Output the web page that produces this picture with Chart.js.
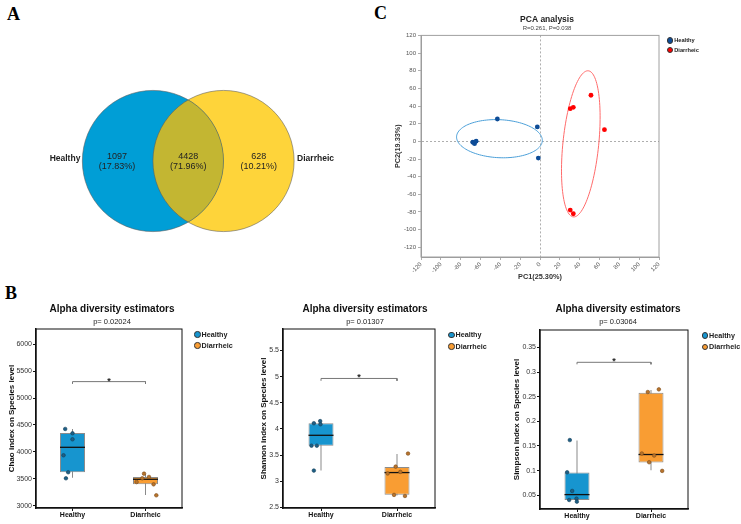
<!DOCTYPE html>
<html lang="en">
<head>
  <meta charset="UTF-8" />
  <title>Venn, PCA y diversidad alfa</title>
  <script src="https://cdn.jsdelivr.net/npm/chart.js"></script>
  <style>
    body { margin: 0; background: #fff; }
    #figura { position: relative; width: 741px; height: 524px; overflow: hidden; font-family: "Liberation Sans", Arial, sans-serif; }
    canvas { position: absolute; }
    .panel { position: absolute; font: bold 18px "Liberation Serif", "DejaVu Serif", serif; line-height: 1; color: #000; }
    .leyenda { position: absolute; font-weight: bold; color: #222; white-space: nowrap; }
    .leyenda div { display: flex; align-items: center; }
    .leyenda span { display: inline-block; border-radius: 50%; box-sizing: border-box; border: 0.8px solid #333; margin-right: 1px; }
  </style>
</head>
<body>
  <div id="figura">
    <div class="panel" style="left:7px;top:5px">A</div>
    <div class="panel" style="left:374px;top:4px">C</div>
    <div class="panel" style="left:5px;top:284px">B</div>

    <canvas id="venn" width="300" height="160" style="left:40px;top:81px"></canvas>
    <canvas id="pca" width="354" height="290" style="left:370px;top:0px"></canvas>
    <canvas id="chao" width="222" height="229" style="left:0px;top:295px"></canvas>
    <canvas id="shannon" width="220" height="229" style="left:255px;top:295px"></canvas>
    <canvas id="simpson" width="220" height="229" style="left:508px;top:295px"></canvas>
  </div>

  <script>
    const groups = ['Healthy', 'Diarrheic'];

    // A: Venn
    const vennCounts = [1097, 4428, 628];
    const vennShares = ['17.83%', '71.96%', '10.21%'];

    // C: PCA
    const pcaTicks = [-120, -100, -80, -60, -40, -20, 0, 20, 40, 60, 80, 100, 120];
    const healthyPC1 = [-67.8, -66.0, -64.4, -43.0, -2.7, -1.7];
    const healthyPC2 = [-1.0, -2.6, 0.2, 25.3, 16.3, -18.9];
    const diarrheicPC1 = [30.5, 33.6, 51.4, 65.0, 30.5, 33.6];
    const diarrheicPC2 = [37.0, 38.5, 52.2, 13.2, -77.9, -82.0];
    // elipses: centro x, centro y, semieje a (x, y), semieje b (x, y)
    const healthyEllipse = [-40.9, 3.0, 43.2, -1.0, -1.75, 21.6];
    const diarrheicEllipse = [41.15, -2.85, 7.55, 82.75, 17.95, -2.07];

    // B: cajas [bigote inf, Q1, mediana, Q3, bigote sup]
    const chaoTicks = [3000, 3500, 4000, 4500, 5000, 5500, 6000];
    const chaoHealthyBox = [3521, 3621, 4085, 4351, 4426];
    const chaoDiarrheicBox = [3199, 3397, 3491, 3534, 3584];
    const chaoHealthy = [4426, 4346, 4234, 3937, 3621, 3509];
    const chaoDiarrheic = [3595, 3534, 3509, 3440, 3397, 3193];
    const chaoJitterHealthy = [-0.1, 0, 0, -0.123, -0.059, -0.09];
    const chaoJitterDiarrheic = [-0.02, 0.048, -0.044, -0.122, 0.111, 0.148];
    const chaoSig = [5306, 5263, 5355];

    const shannonTicks = [2.5, 3, 3.5, 4, 4.5, 5, 5.5];
    const shannonHealthyBox = [3.205, 3.68, 3.879, 4.107, 4.158];
    const shannonDiarrheicBox = [2.729, 2.741, 3.167, 3.275, 3.523];
    const shannonHealthy = [4.11, 4.15, 4.09, 3.68, 3.68, 3.205];
    const shannonDiarrheic = [3.53, 3.28, 3.18, 3.15, 2.74, 2.72];
    const shannonJitterHealthy = [-0.094, -0.011, -0.007, -0.125, -0.055, -0.094];
    const shannonJitterDiarrheic = [0.145, -0.018, 0.044, -0.123, -0.039, 0.105];
    const shannonSig = [4.965, 4.92, 5.032];

    const simpsonTicks = [0.05, 0.1, 0.15, 0.2, 0.25, 0.3, 0.35];
    const simpsonHealthyBox = [0.0385, 0.0405, 0.0514, 0.0961, 0.161];
    const simpsonDiarrheicBox = [0.1008, 0.1164, 0.1327, 0.258, 0.2634];
    const simpsonHealthy = [0.162, 0.0967, 0.0588, 0.0405, 0.0432, 0.0371];
    const simpsonDiarrheic = [0.2648, 0.2594, 0.1347, 0.1306, 0.117, 0.0995];
    const simpsonJitterHealthy = [-0.097, -0.133, -0.065, -0.106, -0.007, -0.002];
    const simpsonJitterDiarrheic = [0.106, -0.043, -0.124, 0.043, -0.025, 0.151];
    const simpsonSig = [0.3197, 0.3156, 0.3258];

    Chart.defaults.font.family = '"Liberation Sans", Arial, sans-serif';
    Chart.defaults.plugins.legend.display = false;
    Chart.defaults.plugins.tooltip.enabled = false;

    const marco = {
      id: 'marco',
      afterDraw(chart, args, opts) {
        const { ctx, chartArea: a } = chart;
        ctx.save();
        ctx.strokeStyle = opts.color;
        ctx.lineWidth = opts.width;
        ctx.strokeRect(a.left, a.top, a.right - a.left, a.bottom - a.top);
        ctx.restore();
      }
    };

    // eje derecho vacio: reserva el hueco de la leyenda para centrar el titulo
    const ejeHueco = w => ({
      position: 'right',
      afterFit: s => { s.width = w; },
      ticks: { display: false },
      grid: { display: false },
      border: { display: false }
    });

    // ---------- A: Venn ----------
    const vennCenters = [-0.5, 0.5];
    const vennRadius = 1;
    const radioPx = c => c.chart.scales.x.getPixelForValue(vennRadius) - c.chart.scales.x.getPixelForValue(0);

    const vennDibujo = {
      id: 'vennDibujo',
      afterDatasetsDraw(chart) {
        const { ctx, scales: { x, y } } = chart;
        const r = x.getPixelForValue(vennRadius) - x.getPixelForValue(0);
        const cy = y.getPixelForValue(0);
        const [ax, bx] = vennCenters.map(v => x.getPixelForValue(v));
        ctx.save();
        ctx.beginPath();
        ctx.arc(ax, cy, r, 0, Math.PI * 2);
        ctx.clip();
        ctx.beginPath();
        ctx.arc(bx, cy, r, 0, Math.PI * 2);
        ctx.fillStyle = '#c3b632';
        ctx.fill();
        ctx.restore();

        ctx.save();
        ctx.strokeStyle = 'rgba(90,90,90,0.7)';
        ctx.lineWidth = 0.8;
        [ax, bx].forEach(cx => { ctx.beginPath(); ctx.arc(cx, cy, r, 0, Math.PI * 2); ctx.stroke(); });

        ctx.fillStyle = '#222';
        ctx.textAlign = 'center';
        ctx.textBaseline = 'middle';
        ctx.font = '9px "Liberation Sans", Arial, sans-serif';
        const textX = [-1.01, 0, 1.0];
        vennCounts.forEach((n, i) => {
          const px = x.getPixelForValue(textX[i]);
          ctx.fillText(String(n), px, cy - 4.3);
          ctx.fillText('(' + vennShares[i] + ')', px, cy + 5.7);
        });
        ctx.font = 'bold 8.5px "Liberation Sans", Arial, sans-serif';
        ctx.textAlign = 'right';
        ctx.fillText(groups[0], ax - r - 2, cy - 2.7);
        ctx.textAlign = 'left';
        ctx.fillText(groups[1], bx + r + 3, cy - 2.7);
        ctx.restore();
      }
    };

    new Chart(document.getElementById('venn'), {
      type: 'scatter',
      data: {
        datasets: [
          { label: groups[0], data: [{ x: vennCenters[0], y: 0 }], backgroundColor: '#009ed6', borderWidth: 0, pointRadius: radioPx },
          { label: groups[1], data: [{ x: vennCenters[1], y: 0 }], backgroundColor: '#fed43a', borderWidth: 0, pointRadius: radioPx }
        ]
      },
      options: {
        responsive: false,
        animation: false,
        events: [],
        layout: { padding: 0 },
        scales: {
          x: { type: 'linear', min: -2.1, max: 2.15, display: false },
          y: { type: 'linear', min: -1.135, max: 1.135, display: false }
        }
      },
      plugins: [vennDibujo]
    });

    // ---------- C: PCA ----------
    const lineaCero = c => (c.tick && c.tick.value === 0 ? '#9a9a9a' : 'rgba(0,0,0,0)');

    const elipses = {
      id: 'elipses',
      beforeDatasetsDraw(chart) {
        const { ctx, scales: { x, y } } = chart;
        [[healthyEllipse, '#4b9fd8'], [diarrheicEllipse, '#ff6b6b']].forEach(([e, color]) => {
          ctx.save();
          ctx.strokeStyle = color;
          ctx.lineWidth = 1;
          ctx.beginPath();
          for (let k = 0; k <= 120; k++) {
            const t = (k / 120) * Math.PI * 2;
            const px = x.getPixelForValue(e[0] + e[2] * Math.cos(t) + e[4] * Math.sin(t));
            const py = y.getPixelForValue(e[1] + e[3] * Math.cos(t) + e[5] * Math.sin(t));
            if (k === 0) ctx.moveTo(px, py); else ctx.lineTo(px, py);
          }
          ctx.closePath();
          ctx.stroke();
          ctx.restore();
        });
      }
    };

    const ejePca = {
      type: 'linear',
      afterBuildTicks: s => { s.ticks = pcaTicks.map(v => ({ value: v })); },
      grid: { color: lineaCero, tickColor: '#9a9a9a', tickLength: 3, lineWidth: 0.8 },
      border: { color: '#9a9a9a', width: 1, dash: [2, 2] }
    };

    new Chart(document.getElementById('pca'), {
      type: 'scatter',
      data: {
        datasets: [
          { label: groups[0], data: healthyPC1.map((v, i) => ({ x: v, y: healthyPC2[i] })), backgroundColor: '#0d4c97', borderWidth: 0, pointRadius: 2.4 },
          { label: groups[1], data: diarrheicPC1.map((v, i) => ({ x: v, y: diarrheicPC2[i] })), backgroundColor: '#ff0000', borderWidth: 0, pointRadius: 2.4 }
        ]
      },
      options: {
        responsive: false,
        animation: false,
        events: [],
        layout: { padding: { left: 20, right: 20, top: 0, bottom: 0 } },
        plugins: {
          title: { display: true, text: 'PCA analysis', color: '#222', font: { size: 8.5, weight: 'bold' }, padding: { top: 15, bottom: 0 } },
          subtitle: { display: true, text: 'R=0.261, P=0.038', color: '#444', font: { size: 6 }, padding: { top: 0, bottom: 3 } },
          marco: { color: '#a0a0a0', width: 1 }
        },
        scales: {
          x: {
            ...ejePca, min: -120, max: 120,
            afterFit: s => { s.height = 33; },
            ticks: { color: '#555', font: { size: 6 }, minRotation: 45, maxRotation: 45, padding: 1, callback: v => String(v) },
            title: { display: true, text: 'PC1(25.30%)', color: '#333', font: { size: 7.3, weight: 'bold' }, padding: { top: 0, bottom: 8.6 } }
          },
          y: {
            ...ejePca, min: -131, max: 120,
            afterFit: s => { s.width = 31; },
            ticks: { color: '#555', font: { size: 6 }, padding: 2, callback: v => String(v) },
            title: { display: true, text: 'PC2(19.33%)', color: '#333', font: { size: 7.3, weight: 'bold' }, padding: { top: 3.6, bottom: 0 } }
          },
          y2: ejeHueco(45)
        }
      },
      plugins: [elipses, marco]
    });

    // ---------- B: cajas ----------
    const colorCaja = ['#1795cf', '#f99d33'];
    const colorPunto = ['#1d5f86', '#b8742c'];
    const bordePunto = ['#123e58', '#7c4a17'];

    const estrella = {
      id: 'estrella',
      afterDatasetsDraw(chart, args, opts) {
        const { ctx, scales: { x, y } } = chart;
        ctx.save();
        ctx.fillStyle = '#222';
        ctx.textAlign = 'center';
        ctx.textBaseline = 'alphabetic';
        ctx.font = 'bold 9px "Liberation Sans", Arial, sans-serif';
        ctx.fillText('*', x.getPixelForValue(1.5), y.getPixelForValue(opts.y) + 5.2);
        ctx.restore();
      }
    };

    function cajas(cfg) {
      const datasets = [
        {
          type: 'bar', order: 4, grouped: false, maxBarThickness: 1,
          data: cfg.boxes.map((b, i) => ({ x: i + 1, y: [b[0], b[4]] })),
          backgroundColor: '#8a8a8a', borderWidth: 0
        },
        {
          type: 'bar', order: 3, grouped: false, maxBarThickness: 25,
          data: cfg.boxes.map((b, i) => ({ x: i + 1, y: [b[1], b[3]] })),
          backgroundColor: colorCaja, borderColor: '#8c8c8c', borderWidth: 1, borderSkipped: false
        },
        {
          type: 'scatter', order: 2,
          data: cfg.boxes.map((b, i) => ({ x: i + 1, y: b[2] })),
          pointStyle: 'line', pointRadius: 12.5, borderColor: '#111', borderWidth: 1.3
        },
        {
          type: 'line', order: 0,
          data: [{ x: 1, y: cfg.sig[1] }, { x: 1, y: cfg.sig[0] }, { x: 2, y: cfg.sig[0] }, { x: 2, y: cfg.sig[1] }],
          borderColor: '#777', borderWidth: 1, pointRadius: 0, fill: false, tension: 0
        }
      ];
      cfg.values.forEach((vals, g) => datasets.push({
        type: 'scatter', order: 1,
        data: vals.map((v, k) => ({ x: g + 1 + cfg.jitter[g][k], y: v })),
        backgroundColor: colorPunto[g], borderColor: bordePunto[g], borderWidth: 0.6, pointRadius: 1.8
      }));

      new Chart(document.getElementById(cfg.id), {
        type: 'bar',
        data: { datasets },
        options: {
          responsive: false,
          animation: false,
          events: [],
          layout: { padding: { left: cfg.padLeft, right: 0, top: 0, bottom: 0 } },
          plugins: {
            title: { display: true, text: 'Alpha diversity estimators', color: '#111', font: { size: 10, weight: 'bold' }, padding: { top: 8, bottom: 0 } },
            subtitle: { display: true, text: cfg.p, color: '#222', font: { size: 7.5 }, padding: { top: 2.5, bottom: cfg.subPad } },
            marco: { color: '#111', width: 1 },
            estrella: { y: cfg.sig[2] }
          },
          scales: {
            x: {
              type: 'linear', min: 0.5, max: 2.5, offset: false,
              afterBuildTicks: s => { s.ticks = groups.map((g, i) => ({ value: i + 1 })); },
              afterFit: s => { s.height = cfg.xH; },
              ticks: { color: '#111', font: { size: 7, weight: 'bold' }, padding: 0, maxRotation: 0, callback: v => groups[v - 1] },
              grid: { display: true, drawOnChartArea: false, offset: false, tickLength: 3, color: '#111' },
              border: { color: '#111', width: 1.5 }
            },
            y: {
              type: 'linear', min: cfg.min, max: cfg.max, beginAtZero: false,
              afterBuildTicks: s => { s.ticks = cfg.ticks.map(v => ({ value: v })); },
              afterFit: s => { s.width = cfg.axisW; },
              ticks: { color: '#333', font: { size: 7 }, padding: 1, callback: v => String(v) },
              grid: { drawOnChartArea: false, tickLength: 3, color: '#111' },
              border: { color: '#111', width: 1.5 },
              title: { display: true, text: cfg.yTitle, color: '#111', font: { size: 8, weight: 'bold' }, padding: { top: cfg.titlePad, bottom: 0 } }
            },
            y2: ejeHueco(40)
          }
        },
        plugins: [marco, estrella]
      });
    }

    cajas({
      id: 'chao', p: 'p= 0.02024', yTitle: 'Chao index on Species level',
      min: 2957, max: 6284, ticks: chaoTicks,
      boxes: [chaoHealthyBox, chaoDiarrheicBox], values: [chaoHealthy, chaoDiarrheic],
      jitter: [chaoJitterHealthy, chaoJitterDiarrheic], sig: chaoSig,
      padLeft: 2, axisW: 34, titlePad: 4.9, subPad: 2.5, xH: 16
    });
    cajas({
      id: 'shannon', p: 'p= 0.01307', yTitle: 'Shannon index on Species level',
      min: 2.49, max: 5.91, ticks: shannonTicks,
      boxes: [shannonHealthyBox, shannonDiarrheicBox], values: [shannonHealthy, shannonDiarrheic],
      jitter: [shannonJitterHealthy, shannonJitterDiarrheic], sig: shannonSig,
      padLeft: 0, axisW: 28, titlePad: 4.2, subPad: 2.5, xH: 16
    });
    cajas({
      id: 'simpson', p: 'p= 0.03064', yTitle: 'Simpson index on Species level',
      min: 0.0222, max: 0.3852, ticks: simpsonTicks,
      boxes: [simpsonHealthyBox, simpsonDiarrheicBox], values: [simpsonHealthy, simpsonDiarrheic],
      jitter: [simpsonJitterHealthy, simpsonJitterDiarrheic], sig: simpsonSig,
      padLeft: 0, axisW: 32, titlePad: 3.9, subPad: 3.5, xH: 15
    });

    // leyendas en HTML
    function leyenda(left, top, size, dot, gap, colores) {
      const caja = document.createElement('div');
      caja.className = 'leyenda';
      caja.style.left = left + 'px';
      caja.style.top = top + 'px';
      caja.style.fontSize = size + 'px';
      groups.forEach((g, i) => {
        const fila = document.createElement('div');
        fila.style.height = gap + 'px';
        const punto = document.createElement('span');
        punto.style.width = dot + 'px';
        punto.style.height = dot + 'px';
        punto.style.background = colores[i];
        fila.appendChild(punto);
        fila.appendChild(document.createTextNode(g));
        caja.appendChild(fila);
      });
      document.getElementById('figura').appendChild(caja);
    }
    leyenda(194, 329, 7.2, 6.5, 11, colorCaja);
    leyenda(448, 329, 7.2, 6.5, 11.5, colorCaja);
    leyenda(701.5, 329.5, 7.2, 6.5, 11.5, colorCaja);
    leyenda(666.7, 35.5, 5.7, 6.5, 9.7, ['#0d4c97', '#ff0000']);
  </script>
</body>
</html>
